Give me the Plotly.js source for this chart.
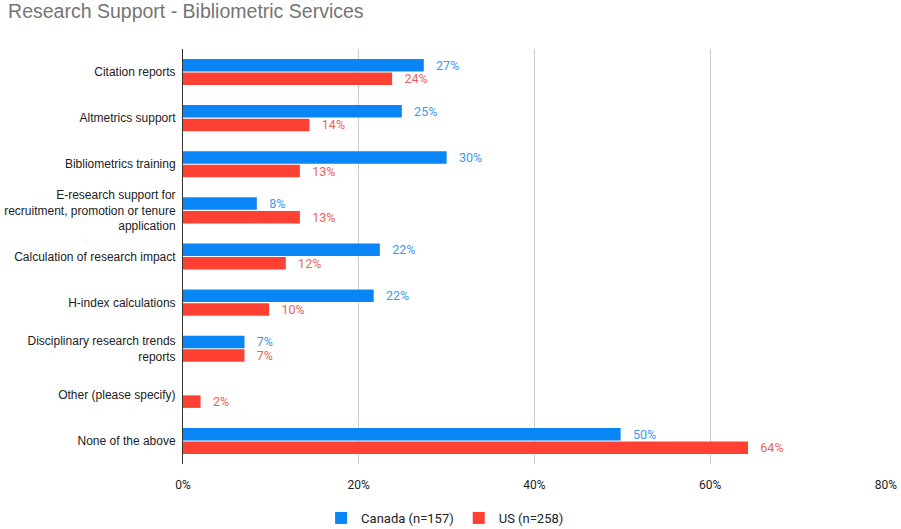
<!DOCTYPE html>
<html>
<head>
<meta charset="utf-8">
<script src="https://cdn.plot.ly/plotly-3.0.1.min.js"></script>
<style>html,body{margin:0;padding:0;background:#fff;}#chart{width:901px;height:529px;}</style>
</head>
<body>
<div id="chart"></div>
<script>
const categories = [
  "Citation reports",
  "Altmetrics support",
  "Bibliometrics training",
  "E-research support for<br>recruitment, promotion or tenure<br>application",
  "Calculation of research impact",
  "H-index calculations",
  "Disciplinary research trends<br>reports",
  "Other (please specify)",
  "None of the above"
];
const canada = [27.4, 24.9, 30.0, 8.4, 22.4, 21.7, 7.0, 0, 49.8];
const us = [23.8, 14.4, 13.3, 13.3, 11.7, 9.8, 7.0, 2.0, 64.3];
const seriesNames = ["Canada (n=157)", "US (n=258)"];
const tickVals = [0, 20, 40, 60, 80];

function labels(arr){ return arr.map(v => v > 0 ? "   " + Math.round(v) + "%" : ""); }

const traces = [
  {type:"bar", orientation:"h", name:seriesNames[0], y:categories, x:canada,
   marker:{color:"#0a85f5"}, text:labels(canada), textposition:"outside", cliponaxis:false, constraintext:"none",
   textfont:{family:"Roboto, sans-serif", size:12.5, color:"#3d98f0"}, hoverinfo:"x"},
  {type:"bar", orientation:"h", name:seriesNames[1], y:categories, x:us,
   marker:{color:"#fe4133"}, text:labels(us), textposition:"outside", cliponaxis:false, constraintext:"none",
   textfont:{family:"Roboto, sans-serif", size:12.5, color:"#ee5f56"}, hoverinfo:"x"}
];

const layout = {
  width:901, height:529,
  margin:{l:183, r:15, t:49, b:65},
  paper_bgcolor:"#fff", plot_bgcolor:"#fff",
  title:{text:"Research Support - Bibliometric Services", x:0.009, xanchor:"left", y:0.979, yanchor:"middle",
         font:{family:"Liberation Sans, Arial, sans-serif", size:19.5, color:"#757575"}},
  barmode:"group", bargap:0.41, bargroupgap:0.08,
  xaxis:{range:[0,80], tickvals:tickVals, ticktext:tickVals.map(v=>v+"%"), showgrid:true, gridcolor:"#cccccc",
         zeroline:false, showline:false, ticks:"", fixedrange:true, ticklabelstandoff:12,
         tickfont:{family:"Roboto, sans-serif", size:12, color:"#222"}},
  yaxis:{autorange:"reversed", showline:true, linecolor:"#333", linewidth:1, ticks:"", showgrid:false,
         tickfont:{family:"Liberation Sans, Arial, sans-serif", size:12, color:"#222"}, ticklabelstandoff:4},
  showlegend:true,
  legend:{orientation:"h", xref:"container", yref:"container", x:0.494, xanchor:"center", y:11/529, yanchor:"middle",
          font:{family:"Roboto, sans-serif", size:13, color:"#222"}},
  font:{family:"Roboto, sans-serif"}
};
Plotly.newPlot("chart", traces, layout, {displayModeBar:false, staticPlot:true});
</script>
</body>
</html>
